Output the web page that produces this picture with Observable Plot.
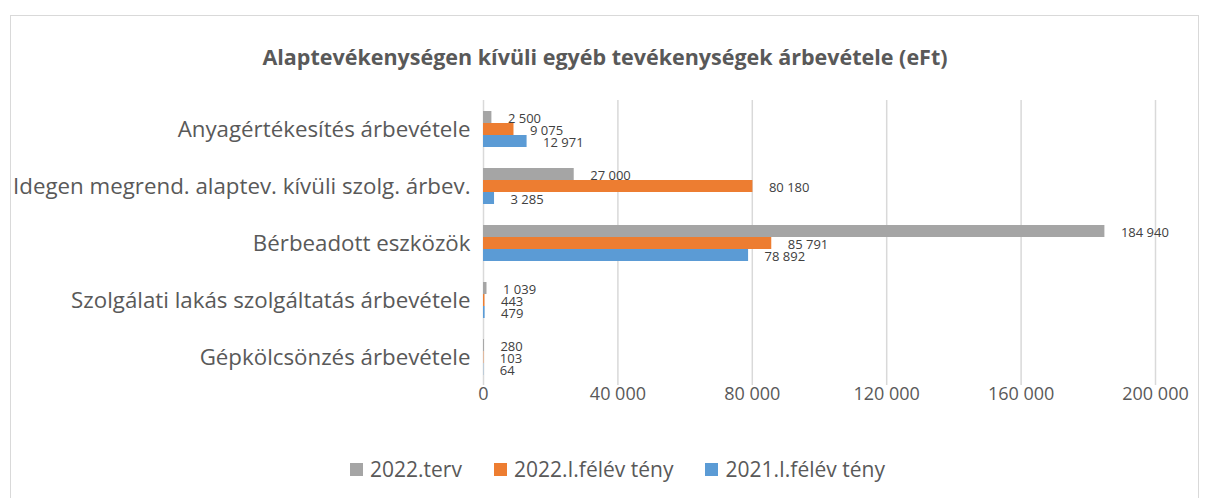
<!DOCTYPE html>
<html><head><meta charset="utf-8">
<script src="https://cdn.jsdelivr.net/npm/d3@7"></script>
<script src="https://cdn.jsdelivr.net/npm/@observablehq/plot@0.6"></script>
<style>
body{margin:0;background:#fff;font-family:"Open Sans",sans-serif;}
#wrap{position:relative;width:1210px;height:498px;overflow:hidden;}
#frame{position:absolute;left:10px;top:15px;width:1189px;height:500px;border:1px solid #d9d9d9;box-sizing:border-box;}
#title{position:absolute;left:0;top:42px;width:1210px;line-height:30px;text-align:center;font-size:21.5px;font-weight:bold;color:#595959;}
#chart{position:absolute;left:0;top:0;}
#legend{position:absolute;left:350px;top:454px;height:30px;display:flex;align-items:center;font-size:21px;line-height:30px;color:#595959;}
#legend .item{display:flex;align-items:center;margin-right:32px;}
#legend .sw{display:inline-block;width:13px;height:13px;margin-right:7px;}
</style></head>
<body>
<div id="wrap">
<div id="frame"></div>
<div id="title">Alaptevékenységen kívüli egyéb tevékenységek árbevétele (eFt)</div>
<div id="chart"></div>
<div id="legend"></div>
</div>
<script>
const categories = ["Anyagértékesítés árbevétele","Idegen megrend. alaptev. kívüli szolg. árbev.","Bérbeadott eszközök","Szolgálati lakás szolgáltatás árbevétele","Gépkölcsönzés árbevétele"];
const seriesNames = ["2022.terv","2022.I.félév tény","2021.I.félév tény"];
const terv2022 = [2500, 27000, 184940, 1039, 280];
const teny2022 = [9075, 80180, 85791, 443, 103];
const teny2021 = [12971, 3285, 78892, 479, 64];
const xTicks = [0, 40000, 80000, 120000, 160000, 200000];
const colors = ["#a5a5a5","#ed7d31","#5b9bd5"];

const loc = d3.formatLocale({decimal:",", thousands:" ", grouping:[3], currency:["",""]});
const fmt = loc.format(",d");

const seriesValues = [terv2022, teny2022, teny2021];
const marks = [];
const bw = 36, sub = bw/3;
seriesValues.forEach((vals, si) => {
  const data = categories.map((c,i)=>({cat:c, v:vals[i]}));
  marks.push(Plot.barX(data, {x:"v", y:"cat", fill:colors[si], insetTop: si*sub, insetBottom:(2-si)*sub}));
  marks.push(Plot.text(data, {x:"v", y:"cat", text:d=>fmt(d.v), dx:16, dy:(si-1)*sub+1, textAnchor:"start", fontSize:13, fill:"#404040"}));
});

const plot = Plot.plot({
  width:1210, height:420,
  marginLeft:483, marginRight:55, marginTop:100, marginBottom:35,
  style:{fontFamily:"Open Sans, sans-serif", background:"transparent", color:"#595959"},
  x:{domain:[0,200000], ticks:xTicks, tickFormat:fmt, tickSize:0, tickPadding:2, label:null},
  y:{domain:categories, paddingInner:0.37, paddingOuter:0.185, tickSize:0, tickPadding:13, label:null},
  marks:[
    Plot.ruleX(xTicks, {stroke:"#d9d9d9", strokeWidth:1.5}),
    ...marks,
    Plot.axisX({ticks:xTicks, tickFormat:fmt, tickSize:0, tickPadding:2, fontSize:18, fill:"#595959", label:null}),
    Plot.axisY({tickSize:0, tickPadding:13, fontSize:22.3, fill:"#595959", label:null})
  ]
});
document.getElementById("chart").appendChild(plot);

const leg = document.getElementById("legend");
seriesNames.forEach((n,i)=>{
  const it = document.createElement("span"); it.className="item";
  const sw = document.createElement("span"); sw.className="sw"; sw.style.background=colors[i];
  it.appendChild(sw); it.appendChild(document.createTextNode(n));
  leg.appendChild(it);
});
</script>
</body></html>
